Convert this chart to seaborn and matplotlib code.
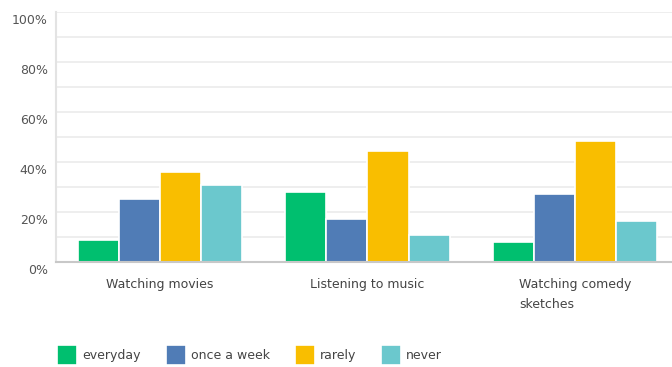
import matplotlib.pyplot as plt
import matplotlib.transforms as mtransforms
import seaborn as sns
import pandas as pd

categories = ["Watching movies", "Listening to music", "Watching comedy\nsketches"]
series = ["everyday", "once a week", "rarely", "never"]
everyday = [8.6, 27.8, 7.9]
once_a_week = [25.0, 17.0, 27.2]
rarely = [35.9, 44.2, 48.4]
never = [30.5, 10.7, 16.2]
colors = ["#00BF6F", "#507CB6", "#F9BE00", "#6BC8CD"]

rows = []
for name, vals in zip(series, [everyday, once_a_week, rarely, never]):
    for cat, v in zip(categories, vals):
        rows.append({"activity": cat, "answer": name, "pct": v})
df = pd.DataFrame(rows)

sns.set_theme(style="white")
plt.rcParams['font.family'] = ['DejaVu Sans']

fig = plt.figure(figsize=(6.72, 3.67), dpi=100)
ax = fig.add_axes([56 / 672, 105.5 / 367, 623 / 672, 250 / 367])

sns.barplot(data=df, x="activity", y="pct", hue="answer", hue_order=series,
            palette=colors, saturation=1, width=0.79, edgecolor="white", linewidth=1.2,
            legend=True, ax=ax)

ax.set_xlim(-0.5, 2.5)
ax.set_ylim(0, 100)
ax.set_xlabel("")
ax.set_ylabel("")
ax.set_yticks(range(0, 101, 20))
ax.set_yticks(range(10, 100, 20), minor=True)
ax.set_yticklabels([f"{v}%" for v in range(0, 101, 20)], fontsize=9, color="#555555")
ax.grid(axis="y", which="both", color="#ebebeb", linewidth=1.2)
ax.set_axisbelow(True)
ax.tick_params(axis="y", which="both", length=0, pad=6)
ax.tick_params(axis="x", length=0, pad=12, labelsize=9, labelcolor="#444444")
offset = mtransforms.ScaledTranslation(0, -8 / 100, fig.dpi_scale_trans)
for lbl in ax.get_yticklabels():
    lbl.set_transform(lbl.get_transform() + offset)
for lbl in ax.get_xticklabels():
    lbl.set_multialignment("left")
    lbl.set_linespacing(1.7)

sns.despine(ax=ax, top=True, right=True)
ax.spines["left"].set_color("#e3e3e3")
ax.spines["left"].set_linewidth(1.5)
ax.spines["bottom"].set_color("#c8c8c8")
ax.spines["bottom"].set_linewidth(1.5)

handles, labels = ax.get_legend_handles_labels()
ax.get_legend().remove()
fig.legend(handles, labels, loc="center left", bbox_to_anchor=(46 / 672, 1 - 355 / 367),
           ncol=4, frameon=False, fontsize=9, handlelength=1.6, handleheight=2.2,
           handletextpad=0.4, columnspacing=2.0, labelcolor="#444444")

fig.savefig("out.png", dpi=100)
